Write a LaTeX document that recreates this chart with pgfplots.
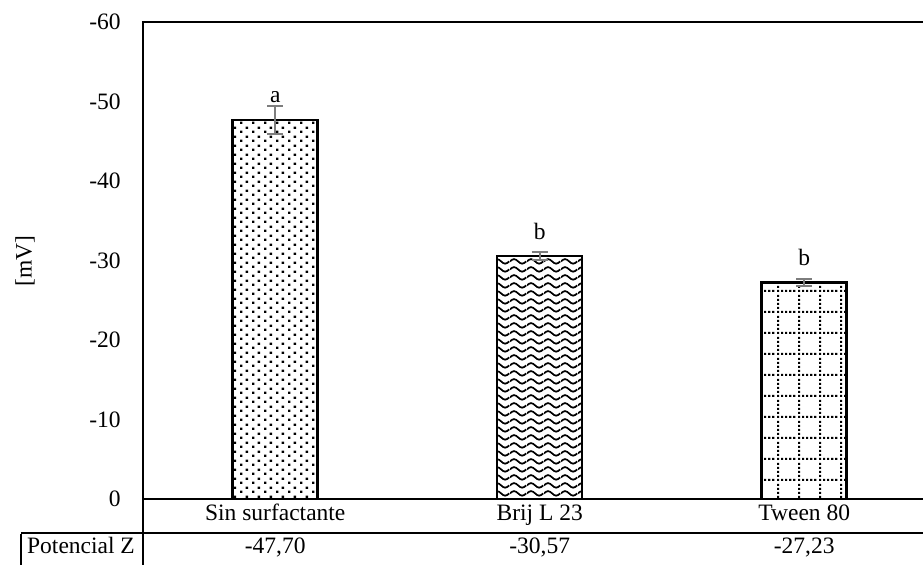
\documentclass[border=0pt]{standalone}
\usepackage{fontspec}
\setmainfont{Liberation Serif}
\usepackage{pgfplots}
\pgfplotsset{compat=1.18}
\usetikzlibrary{patterns.meta}
\definecolor{eb}{RGB}{125,125,125}

\tikzdeclarepattern{name=xdots, tile size={(6pt,4.5pt)}, bottom left={(0pt,0pt)}, top right={(6pt,4.5pt)},
  code={\fill (0pt,0pt) rectangle (1.3pt,1.3pt); \fill (3pt,2.25pt) rectangle (4.3pt,3.55pt);}}
\tikzdeclarepattern{name=xwave, tile size={(8.5pt,3.8pt)}, bottom left={(0pt,0pt)}, top right={(8.5pt,3.8pt)},
  code={\draw[line width=0.9pt] (0pt,1.9pt) sin (2.125pt,3.1pt) cos (4.25pt,1.9pt) sin (6.375pt,0.7pt) cos (8.5pt,1.9pt);}}
\tikzdeclarepattern{name=xgrid, tile size={(10.5pt,10.5pt)}, bottom left={(0pt,0pt)}, top right={(10.5pt,10.5pt)},
  code={\fill (0pt,0pt) rectangle (1.1pt,1.1pt); \fill (2.1pt,0pt) rectangle (3.2pt,1.1pt); \fill (4.2pt,0pt) rectangle (5.3pt,1.1pt);
        \fill (6.3pt,0pt) rectangle (7.4pt,1.1pt); \fill (8.4pt,0pt) rectangle (9.5pt,1.1pt);
        \fill (0pt,2.1pt) rectangle (1.1pt,3.2pt); \fill (0pt,4.2pt) rectangle (1.1pt,5.3pt);
        \fill (0pt,6.3pt) rectangle (1.1pt,7.4pt); \fill (0pt,8.4pt) rectangle (1.1pt,9.5pt);}}

\begin{document}
\fontsize{11.75}{14}\selectfont
\begin{tikzpicture}
\useasboundingbox (-71.5pt,-33pt) rectangle (390pt,249.5pt);
\clip (-71.5pt,-33pt) rectangle (390pt,249.5pt);
\begin{axis}[
  at={(0,0)}, anchor=south west,
  scale only axis, width=396.75pt, height=238.5pt,
  xmin=-0.5, xmax=2.5, ymin=-60, ymax=0, y dir=reverse,
  ytick={-60,-50,-40,-30,-20,-10,0},
  xtick={0,1,2}, xticklabels={Sin surfactante, Brij L 23, Tween 80},
  major tick length=0pt,
  axis line style={draw=none},
  /pgf/number format/assume math mode=true,
  yticklabel style={anchor=east, inner sep=0pt, xshift=-11pt, font=\fontsize{11.75}{14}\selectfont},
  xticklabel style={anchor=base, inner sep=0pt, yshift=-11pt, font=\fontsize{11.75}{14}\selectfont},
  ybar, bar width=42.5pt,
  clip=false,
  error bars/y dir=both, error bars/y explicit,
  error bars/error mark=|,
  error bars/error bar style={eb, line width=0.9pt},
  error bars/error mark options={eb, line width=0.9pt, mark size=4pt},
]
\addplot[bar shift=0pt, draw=black, line width=1.25pt, fill=white, postaction={pattern=xdots}]
  coordinates {(0,-47.70) +- (0,1.75)};
\addplot[bar shift=0pt, draw=black, line width=1.25pt, fill=white, postaction={pattern=xwave}]
  coordinates {(1,-30.57) +- (0,0.5)};
\addplot[bar shift=0pt, draw=black, line width=1.25pt, fill=white, postaction={pattern=xgrid}]
  coordinates {(2,-27.23) +- (0,0.4)};
\node[anchor=base, inner sep=0pt] at (axis cs:0,-49.9) {a};
\node[anchor=base, inner sep=0pt] at (axis cs:1,-32.7) {b};
\node[anchor=base, inner sep=0pt] at (axis cs:2,-29.4) {b};
\end{axis}
\draw[line width=1pt] (0,-33pt) -- (0,238.5pt);
\draw[line width=1pt] (-0.5pt,238.5pt) -- (395pt,238.5pt);
\draw[line width=1pt] (0,0) -- (395pt,0);
\draw[line width=1pt] (-61pt,-17pt) -- (395pt,-17pt);
\draw[line width=1pt] (-61pt,-17.5pt) -- (-61pt,-40pt);
\node[anchor=base, inner sep=0pt] at (66.125pt,-27.5pt) {-47,70};
\node[anchor=base, inner sep=0pt] at (198.375pt,-27.5pt) {-30,57};
\node[anchor=base, inner sep=0pt] at (330.625pt,-27.5pt) {-27,23};
\node[anchor=base, inner sep=0pt] at (-31pt,-27.5pt) {Potencial Z};
\node[rotate=90, inner sep=0pt] at (-59pt,119pt) {[mV]};
\end{tikzpicture}
\end{document}
